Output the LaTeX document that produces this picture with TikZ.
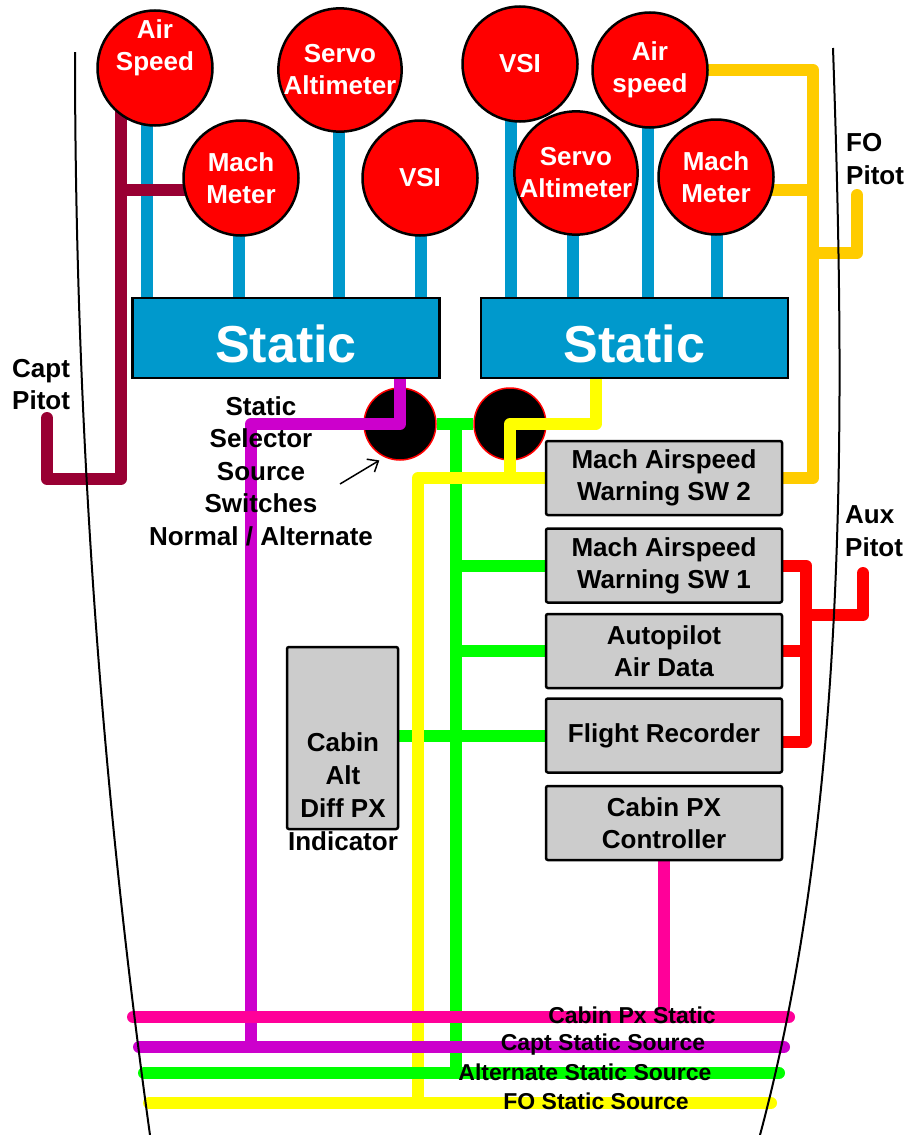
\documentclass[tikz,border=0pt]{standalone}
\usepackage{fontspec}
\setmainfont{Liberation Sans}
\usetikzlibrary{arrows.meta}

\definecolor{gaugered}{RGB}{255,0,0}
\definecolor{statblue}{RGB}{0,153,204}
\definecolor{unitgray}{RGB}{204,204,204}
\definecolor{cabpink}{RGB}{255,0,153}
\definecolor{capviolet}{RGB}{204,0,204}
\definecolor{altgreen}{RGB}{0,255,0}
\definecolor{foyellow}{RGB}{255,255,0}
\definecolor{fogold}{RGB}{255,204,0}
\definecolor{capmaroon}{RGB}{153,0,51}

\pgfdeclarelayer{back}
\pgfdeclarelayer{pipes}
\pgfsetlayers{back,pipes,main}

\begin{document}
\begin{tikzpicture}[x=1pt, y=-1pt,
every node/.style={inner sep=0pt, font=\bfseries\fontsize{26}{33}\selectfont},
gauge/.style={circle, draw=black, line width=2.5pt, fill=gaugered, minimum size=115pt,
    text=white, align=center, font=\bfseries\fontsize{26}{32}\selectfont},
statbox/.style={draw=black, line width=2.5pt, fill=statblue, minimum width=307pt,
    minimum height=80pt, text height=49pt, text=white, font=\bfseries\fontsize{52}{60}\selectfont},
unit/.style={draw=black, line width=2.5pt, rounded corners=2pt, fill=unitgray,
    minimum width=236pt, minimum height=74pt, align=center, font=\bfseries\fontsize{26}{32}\selectfont},
selsw/.style={circle, draw=red, line width=1.5pt, fill=black, minimum size=72pt},
pipe/.style={line width=12pt, line cap=round, line join=round},
busname/.style={font=\bfseries\fontsize{23}{28}\selectfont}
]
\useasboundingbox (0,0) rectangle (906,1135);

% captain side instruments
\node[gauge, label={[yshift=20pt, text=white, align=center, font=\bfseries\fontsize{26}{32}\selectfont]center:{Air\\Speed}}] (capas) at (155,68) {};
\node[gauge] (capmach) at (241,178) {Mach\\Meter};
\node[gauge] (capalt) at (340,70) {Servo\\Altimeter};
\node[gauge] (capvsi) at (420,178) {VSI};
% first officer side instruments
\node[gauge] (fovsi) at (520,64) {VSI};
\node[gauge] (foas) at (650,70) {Air\\speed};
\node[gauge] (foalt) at (576,173) {Servo\\Altimeter};
\node[gauge] (fomach) at (716,177) {Mach\\Meter};

\node[statbox] (capstat) at (286,338) {Static};
\node[statbox] (fostat) at (634.5,338) {Static};

\begin{pgfonlayer}{back}
\node[selsw] (capsel) at (400,424) {};
\node[selsw] (fosel) at (510,424) {};
\end{pgfonlayer}

\node[unit] (sw2) at (664,478) {Mach Airspeed\\Warning SW 2};
\node[unit] (sw1) at (664,565.5) {Mach Airspeed\\Warning SW 1};
\node[unit] (ap) at (664,651) {Autopilot\\Air Data};
\node[unit] (fr) at (664,735.5) {Flight Recorder};
\node[unit] (cpc) at (664,823) {Cabin PX\\Controller};
\node[unit, minimum width=111pt, minimum height=182pt] (cabalt) at (342.5,738) {};
\node[align=center] (cabalttxt) at (343,792) {Cabin\\Alt\\Diff PX\\Indicator};

\node[align=center, font=\bfseries\fontsize{26}{32.5}\selectfont] (seltxt) at (261,471)
    {Static\\Selector\\Source\\Switches\\Normal / Alternate};
\node[anchor=west, align=left, font=\bfseries\fontsize{26}{32}\selectfont] (captlbl) at (12,385) {Capt\\Pitot};
\node[anchor=west, align=left] (folbl) at (846,159) {FO\\Pitot};
\node[anchor=west, align=left] (auxlbl) at (845,531) {Aux\\Pitot};

\coordinate (capjn) at (121,479);
\coordinate (capitot) at (47,418);
\coordinate (fojn) at (813,253);
\coordinate (fopitot) at (857,195);
\coordinate (auxjn) at (806,615);
\coordinate (auxpitot) at (863,573);
\coordinate (seltail) at (340,484);

\coordinate (cabL) at (133,1017);  \coordinate (cabR) at (789,1017);
\coordinate (capL) at (139,1047);  \coordinate (capR) at (784,1047);
\coordinate (altL) at (144,1073);  \coordinate (altR) at (779,1073);
\coordinate (foL) at (149,1103);   \coordinate (foR) at (771,1103);
\coordinate (capsrc) at (251,1047);
\coordinate (altsrc) at (456,1073);
\coordinate (fosrc) at (418,1103);

\begin{pgfonlayer}{pipes}
\foreach \g/\s/\dx in {capas/capstat/-8, capmach/capstat/-2, capalt/capstat/-1, capvsi/capstat/1,
                       fovsi/fostat/-9, foalt/fostat/-3, foas/fostat/-2, fomach/fostat/1}
    \draw[pipe, statblue] ([xshift=\dx pt]\g.center) -- ([xshift=\dx pt]\g.center |- \s.center);

\draw[pipe, capmaroon] (capas.center -| capjn) -- (capjn) -- (capjn -| capitot) -- (capitot);
\draw[pipe, capmaroon] ([yshift=-12pt]capmach.center) -- ([yshift=-12pt]capmach.center -| capjn);

\draw[pipe, fogold] (foas.center) -- (foas.center -| fojn) -- (fojn |- sw2.center) -- (sw2.center);
\draw[pipe, fogold] ([yshift=-13pt]fomach.center) -- ([yshift=-13pt]fomach.center -| fojn);
\draw[pipe, fogold] (fojn) -- (fojn -| fopitot) -- (fopitot);

\draw[pipe, red] (sw1.center) -- (sw1.center -| auxjn) -- ([yshift=-6pt]fr.center -| auxjn) -- ([yshift=-6pt]fr.center);
\draw[pipe, red] (ap.center) -- (ap.center -| auxjn);
\draw[pipe, red] (auxjn) -- (auxjn -| auxpitot) -- (auxpitot);

\draw[pipe, altgreen, line cap=butt] (capsel.east) -- (fosel.west);
\draw[pipe, altgreen] (altsrc |- capsel.center) -- (altsrc);
\foreach \u in {sw1, ap, fr}
    \draw[pipe, altgreen] (altsrc |- \u.center) -- (\u.center);
\draw[pipe, altgreen] (cabalt.center |- fr.center) -- (altsrc |- fr.center);

\draw[pipe, capviolet] (capsel |- capstat.center) -- (capsel.center) -- (capsel.center -| capsrc) -- (capsrc);
\draw[pipe, cabpink] (cpc.center) -- (cpc.center |- cabL);

\draw[pipe, foyellow] ([xshift=-39pt]fostat.center) -- ([xshift=-39pt]fostat.center |- fosel.center)
    -- (fosel.center) -- (fosel |- sw2.center);
\draw[pipe, foyellow] (sw2.center) -- (sw2.center -| fosrc) -- (fosrc);

\draw[pipe, cabpink] (cabL) -- (cabR);
\draw[pipe, capviolet] (capL) -- (capR);
\draw[pipe, altgreen] (altL) -- (altR);
\draw[pipe, foyellow] (foL) -- (foR);
\end{pgfonlayer}

\node[busname] (cabbus) at (632,1015) {Cabin Px Static};
\node[busname] (capbus) at (603,1045) {Capt Static Source};
\node[busname] (altbus) at (585,1072) {Alternate Static Source};
\node[busname] (fobus) at (596,1101) {FO Static Source};

\draw[line width=1.5pt, -{Straight Barb[length=9pt, width=15pt]}, shorten >=6pt] (seltail) -- (capsel.245);

% fuselage outline
\draw[line width=2pt] (75,52) .. controls (75,415) and (100,775) .. (150,1135);
\draw[line width=2pt] (833,48) .. controls (845,400) and (850,800) .. (760,1135);

\end{tikzpicture}
\end{document}
